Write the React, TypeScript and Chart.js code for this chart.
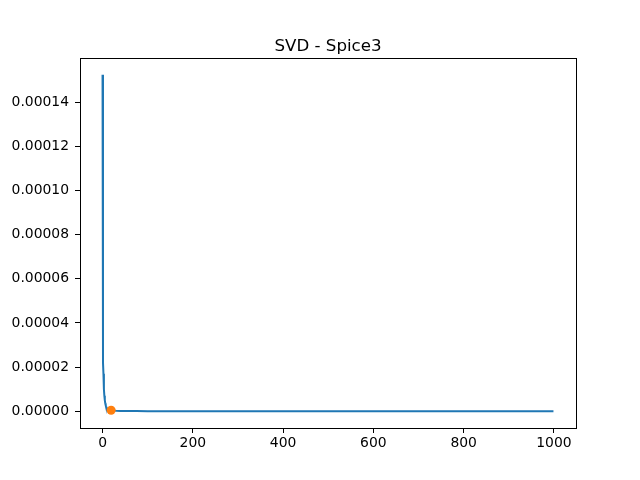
import React, { useEffect, useRef } from "react";
import { Chart, registerables } from "chart.js";

Chart.register(...registerables);

const componentIndex: number[] = [0, 1, 2, 3, 4, 5, 6, 7, 8, 9, 10, 12, 14, 16, 18, 19, 20, 25, 30, 40, 50, 75, 100, 150, 200, 300, 400, 500, 600, 700, 800, 900, 999];
const singularValues: number[] = [1.525e-4, 2.2e-5, 1.7e-5, 1.0e-5, 7.0e-6, 5.0e-6, 3.6e-6, 2.7e-6, 2.0e-6, 1.5e-6, 1.2e-6, 9.0e-7, 7.0e-7, 5.5e-7, 4.6e-7, 4.2e-7, 3.8e-7, 2.6e-7, 1.9e-7, 1.2e-7, 8e-8, 4e-8, 2.5e-8, 1.4e-8, 9e-9, 5e-9, 3e-9, 2e-9, 1.5e-9, 1.1e-9, 8e-10, 5e-10, 2e-10];
const markerX: number[] = [19];
const markerY: number[] = [4.2e-7];
const xTicks: number[] = [0, 200, 400, 600, 800, 1000];
const yTicks: number[] = [0, 0.00002, 0.00004, 0.00006, 0.00008, 0.0001, 0.00012, 0.00014];
const chartTitle = "SVD - Spice3";

const FONT = "'DejaVu Sans', sans-serif";

const framePlugin = {
  id: "frameAndTitle",
  afterDraw(chart: any) {
    const { ctx, chartArea } = chart;
    ctx.save();
    ctx.strokeStyle = "#000";
    ctx.lineWidth = 1;
    ctx.strokeRect(
      Math.round(chartArea.left) + 0.5,
      Math.round(chartArea.top) + 0.5,
      Math.round(chartArea.right - chartArea.left),
      Math.round(chartArea.bottom - chartArea.top)
    );
    ctx.fillStyle = "#000";
    ctx.font = `16.67px ${FONT}`;
    ctx.textAlign = "center";
    ctx.textBaseline = "alphabetic";
    ctx.fillText(chartTitle, (chartArea.left + chartArea.right) / 2, chartArea.top - 7);
    ctx.restore();
  },
};

export default function App() {
  const ref = useRef<HTMLCanvasElement | null>(null);
  useEffect(() => {
    document.body.style.margin = "0";
    if (!ref.current) return;
    const lineData = componentIndex.map((x, i) => ({ x, y: singularValues[i] }));
    const pointData = markerX.map((x, i) => ({ x, y: markerY[i] }));
    const chart = new Chart(ref.current, {
      type: "scatter",
      data: {
        datasets: [
          {
            data: lineData,
            order: 2,
            showLine: true,
            borderColor: "#1f77b4",
            backgroundColor: "#1f77b4",
            borderWidth: 2,
            pointRadius: 0,
            tension: 0,
          },
          {
            data: pointData,
            order: 1,
            showLine: false,
            borderColor: "#ff7f0e",
            backgroundColor: "#ff7f0e",
            pointRadius: 4.5,
            pointBorderWidth: 0,
          },
        ],
      },
      options: {
        animation: false,
        responsive: false,
        devicePixelRatio: 1,
        layout: { padding: { top: 58, right: 64, left: 0, bottom: 0 } },
        plugins: { legend: { display: false }, tooltip: { enabled: false }, title: { display: false } },
        scales: {
          x: {
            type: "linear",
            min: -49.95,
            max: 1048.95,
            afterBuildTicks: (s: any) => { s.ticks = xTicks.map((v) => ({ value: v })); },
            afterFit: (s: any) => { s.height = 52; },
            grid: { drawOnChartArea: false, drawTicks: true, tickLength: 5, tickColor: "#000", tickWidth: 1 },
            border: { display: false },
            ticks: { color: "#000", font: { family: FONT, size: 13.9 }, padding: 2, maxRotation: 0, callback: (v: any) => String(v) },
          },
          y: {
            type: "linear",
            min: -7.625e-6,
            max: 1.60125e-4,
            afterBuildTicks: (s: any) => { s.ticks = yTicks.map((v) => ({ value: v })); },
            afterFit: (s: any) => { s.width = 80; },
            grid: { drawOnChartArea: false, drawTicks: true, tickLength: 5, tickColor: "#000", tickWidth: 1 },
            border: { display: false },
            ticks: { color: "#000", font: { family: FONT, size: 13.9 }, padding: 6, callback: (v: any) => Number(v).toFixed(5) },
          },
        },
      },
      plugins: [framePlugin],
    });
    return () => chart.destroy();
  }, []);
  return (
    <div style={{ position: "absolute", left: 0, top: 0, width: 640, height: 480, background: "#fff" }}>
      <canvas ref={ref} width={640} height={480} style={{ width: 640, height: 480 }} />
    </div>
  );
}
